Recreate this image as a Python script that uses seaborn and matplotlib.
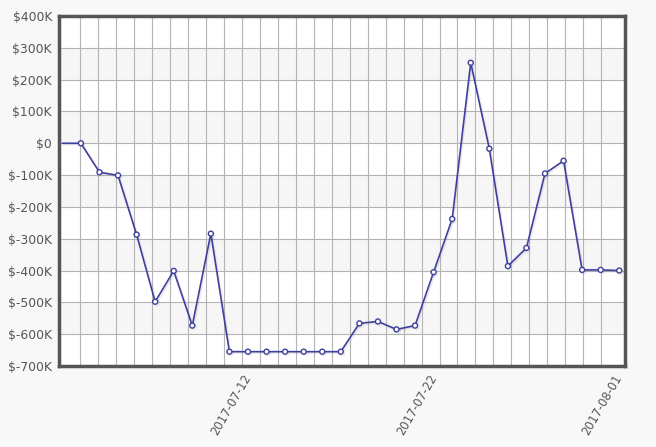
import pandas as pd
import numpy as np
import matplotlib
matplotlib.use('Agg')
import matplotlib.pyplot as plt
import matplotlib.dates as mdates
import matplotlib.patheffects as pe
from matplotlib.ticker import FuncFormatter
import seaborn as sns

# daily balance
dates = pd.date_range('2017-07-02', '2017-08-01', freq='D')
values = [0, 0, -91, -101, -287, -498, -401, -573, -284, -655,
          -655, -655, -655, -655, -655, -655, -566, -560, -585, -573,
          -405, -238, 253, -17, -386, -329, -95, -55, -398, -398, -400]
values = [v * 1000 for v in values]
tick_dates = ['2017-07-12', '2017-07-22', '2017-08-01']
y_ticks = list(range(-700000, 400001, 100000))

df = pd.DataFrame({'date': dates, 'value': values})

sns.set_style('white')
plt.rcParams['font.family'] = ['DejaVu Sans']

fig = plt.figure(figsize=(6.56, 4.47), dpi=100, facecolor='#f8f8f8')
ax = fig.add_axes([59 / 656, 1 - 366 / 447, (625 - 59) / 656, (366 - 16) / 447])
ax.set_facecolor('white')

# alternating horizontal bands
for i, lo in enumerate(y_ticks[:-1]):
    if i % 2 == 1:
        ax.axhspan(lo, lo + 100000, color='#f6f6f6', zorder=0, lw=0)

x0 = mdates.date2num(pd.Timestamp('2017-07-02')) - 0.18
x1 = mdates.date2num(pd.Timestamp('2017-08-01')) + 0.31
ax.set_xlim(x0, x1)
ax.set_ylim(-700000, 400000)

# grid
for y in y_ticks[1:-1]:
    ax.axhline(y, color='#b4b4b4', lw=0.8, zorder=1)
vlines = np.linspace(mdates.date2num(pd.Timestamp('2017-07-03')) - 0.04,
                     mdates.date2num(pd.Timestamp('2017-07-31')) + 0.03, 30)
for v in vlines:
    ax.axvline(v, color='#b4b4b4', lw=0.8, zorder=1)

sns.lineplot(data=df, x='date', y='value', ax=ax, color='#3f3f9f', lw=1.2,
             marker='o', markersize=3.6, markerfacecolor='white',
             markeredgecolor='#3f3f9f', markeredgewidth=1.0,
             markevery=list(range(1, len(df))), zorder=3,
             path_effects=[pe.SimpleLineShadow(offset=(1, -1), alpha=0.15, shadow_color='#777777'),
                           pe.Normal()])

ax.set_xticks([mdates.date2num(pd.Timestamp(d)) for d in tick_dates])
ax.set_xticklabels(tick_dates, rotation=60, ha='right', va='center', rotation_mode='anchor')
ax.set_yticks(y_ticks)
ax.yaxis.set_major_formatter(FuncFormatter(lambda v, p: '$0' if v == 0 else f'${int(v / 1000)}K'))
ax.tick_params(axis='both', length=0, labelsize=8.4, labelcolor='#555555', pad=5)
ax.tick_params(axis='y', labelsize=8.9, pad=5)
ax.tick_params(axis='x', pad=7)
ax.set_xlabel('')
ax.set_ylabel('')

for s in ax.spines.values():
    s.set_color('#555555')
    s.set_linewidth(2.5)
    s.set_zorder(5)

fig.savefig('out.png', dpi=100, facecolor=fig.get_facecolor())
